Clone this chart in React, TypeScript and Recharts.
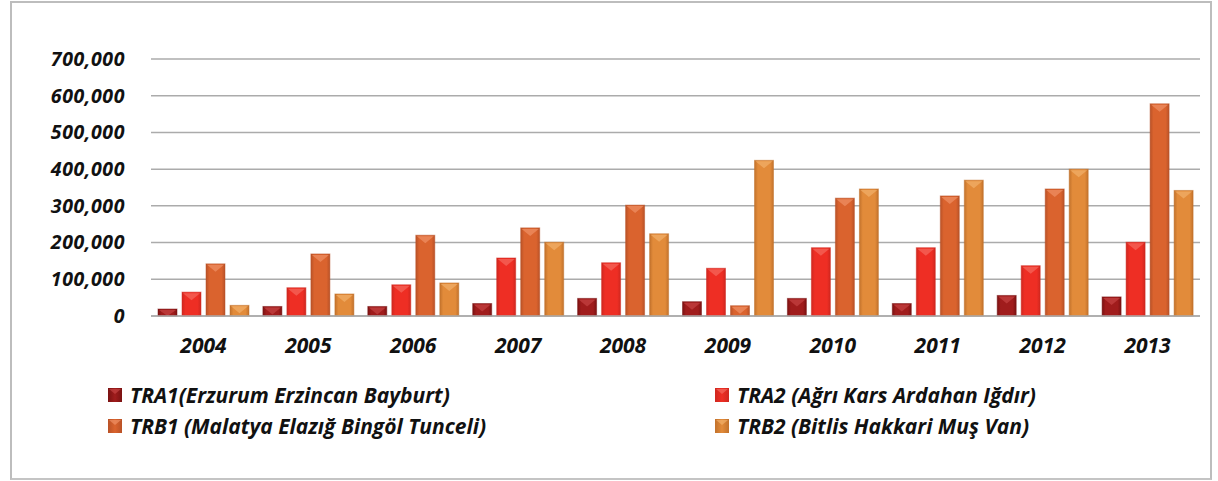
import React from 'react';
import { BarChart, Bar, XAxis, YAxis, CartesianGrid } from 'recharts';

const YEARS = ['2004', '2005', '2006', '2007', '2008', '2009', '2010', '2011', '2012', '2013'];
const TRA1 = [19000, 26000, 26000, 34000, 48000, 39000, 48000, 34000, 56000, 52000];
const TRA2 = [65000, 77000, 85000, 158000, 145000, 130000, 186000, 186000, 137000, 201000];
const TRB1 = [142000, 169000, 220000, 240000, 302000, 28000, 321000, 327000, 346000, 578000];
const TRB2 = [29000, 60000, 90000, 201000, 224000, 424000, 346000, 370000, 400000, 342000];
const Y_TICKS = [0, 100000, 200000, 300000, 400000, 500000, 600000, 700000];

const SERIES = [
  { key: 'tra1', label: 'TRA1(Erzurum Erzincan Bayburt)', base: '#A01C1C', edge: '#7A1212', bevel: '#CC4A4A' },
  { key: 'tra2', label: 'TRA2 (Ağrı Kars Ardahan Iğdır)', base: '#EE2E24', edge: '#CF271F', bevel: '#F77368' },
  { key: 'trb1', label: 'TRB1 (Malatya Elazığ Bingöl Tunceli)', base: '#DA632E', edge: '#B95227', bevel: '#F39A70' },
  { key: 'trb2', label: 'TRB2 (Bitlis Hakkari Muş Van)', base: '#E28B3A', edge: '#C2722C', bevel: '#F5B873' },
];

const rows = YEARS.map((y, i) => ({
  year: y,
  tra1: TRA1[i],
  tra2: TRA2[i],
  trb1: TRB1[i],
  trb2: TRB2[i],
}));

const FONT = '"Open Sans", Lato, sans-serif';

const makeShape = (idx: number) => (props: any) => {
  const { x, y, width, height } = props;
  if (!height || height <= 0) return null;
  const bev = Math.min(8, height);
  return (
    <g>
      <rect x={x} y={y} width={width} height={height} fill={`url(#grad${idx})`} stroke={SERIES[idx].edge} strokeWidth={1} strokeOpacity={0.5} />
      <polygon
        points={`${x + 1},${y + 1} ${x + width - 1},${y + 1} ${x + width / 2},${y + bev}`}
        fill={SERIES[idx].bevel}
        opacity={0.6}
      />
    </g>
  );
};

const fmt = (v: number) => v.toLocaleString('en-US');

export default function App() {
  return (
    <div style={{ position: 'absolute', left: 0, top: 0, width: 1218, height: 481, background: '#fff', fontFamily: FONT }}>
      <div style={{ position: 'absolute', left: 10, top: 1, width: 1198, height: 475, border: '2px solid #bdbdbd', borderBottomColor: '#c4c4c4' }} />
      <div style={{ position: 'absolute', left: 0, top: 0 }}>
        <BarChart
          width={1218}
          height={481}
          data={rows}
          margin={{ top: 59, right: 18, bottom: 105, left: 0 }}
          barCategoryGap={7}
          barGap={5}
        >
          <defs>
            {SERIES.map((s, i) => (
              <linearGradient key={s.key} id={`grad${i}`} x1="0" y1="0" x2="1" y2="0">
                <stop offset="0%" stopColor={s.edge} />
                <stop offset="18%" stopColor={s.base} />
                <stop offset="82%" stopColor={s.base} />
                <stop offset="100%" stopColor={s.edge} />
              </linearGradient>
            ))}
          </defs>
          <CartesianGrid vertical={false} stroke="#ababab" strokeWidth={1.5} />
          <XAxis
            dataKey="year"
            height={60}
            tickSize={0}
            tickMargin={22}
            axisLine={{ stroke: '#ababab', strokeWidth: 1.5 }}
            tick={{ fill: '#111', fontSize: 21, fontWeight: 700, fontStyle: 'italic', fontFamily: FONT }}
          />
          <YAxis
            width={151}
            domain={[0, 700000]}
            ticks={Y_TICKS}
            interval={0}
            tickSize={0}
            tickMargin={26}
            axisLine={false}
            tickFormatter={fmt}
            tick={{ fill: '#111', fontSize: 19.5, fontWeight: 700, fontStyle: 'italic', fontFamily: FONT, letterSpacing: 0.6 }}
          />
          {SERIES.map((s, i) => (
            <Bar key={s.key} dataKey={s.key} name={s.label} fill={s.base} shape={makeShape(i)} isAnimationActive={false} />
          ))}
        </BarChart>
      </div>
      {SERIES.map((s, i) => {
        const col = i % 2;
        const row = Math.floor(i / 2);
        return (
          <div
            key={s.key}
            style={{
              position: 'absolute',
              left: col === 0 ? 108 : 715,
              top: 382 + row * 31,
              display: 'flex',
              alignItems: 'center',
              whiteSpace: 'nowrap',
            }}
          >
            <svg width={14} height={14} style={{ marginRight: 8 }}>
              <defs>
                <linearGradient id={`lg${i}`} x1="0" y1="0" x2="1" y2="0">
                  <stop offset="0%" stopColor={s.edge} />
                  <stop offset="50%" stopColor={s.base} />
                  <stop offset="100%" stopColor={s.edge} />
                </linearGradient>
              </defs>
              <rect x={0} y={0} width={14} height={14} fill={`url(#lg${i})`} />
              <polygon points="1,1 13,1 7,6" fill={s.bevel} opacity={0.6} />
            </svg>
            <span style={{ fontSize: 21, fontWeight: 700, fontStyle: 'italic', color: '#111', fontFamily: FONT, lineHeight: '26px' }}>
              {s.label}
            </span>
          </div>
        );
      })}
    </div>
  );
}
